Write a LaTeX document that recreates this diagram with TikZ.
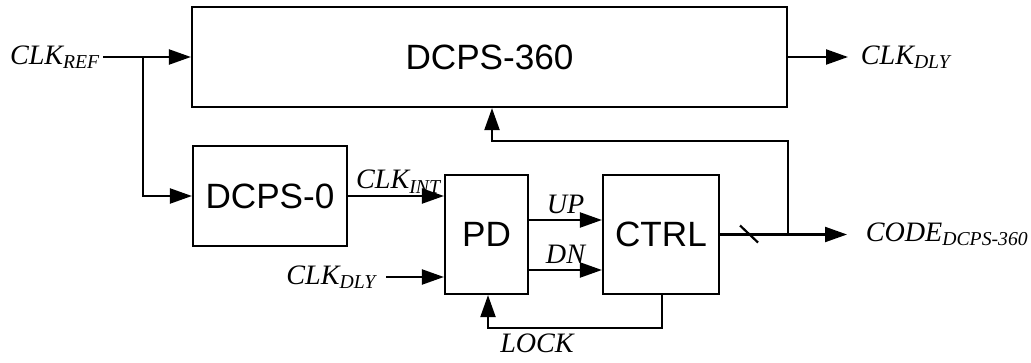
\documentclass[tikz,border=0pt]{standalone}
\usepackage{fontspec}
\setmainfont{Liberation Serif}
\newfontfamily\boxfont{Liberation Sans}
\usetikzlibrary{positioning,arrows.meta}
\newcommand{\sigsub}[2]{#1\textsubscript{#2}}

\begin{document}
\begin{tikzpicture}[line width=1.25pt,
  blk/.style={draw, font=\boxfont\fontsize{20}{24}\selectfont, inner sep=0pt},
  sig/.style={font=\itshape\fontsize{16}{19}\selectfont, inner sep=1pt},
  arr/.style={-{Triangle[length=0.44cm,width=0.3cm]}}]
  \useasboundingbox (0,0) rectangle (20.62,7.24);

  % Blocks
  \node[blk, minimum width=11.9cm, minimum height=2cm] (dcps360) at (9.79,6.10) {DCPS-360};
  \node[blk, minimum width=3.08cm, minimum height=2cm] (dcps0) at (5.40,3.32) {DCPS-0};
  \node[blk, minimum width=1.66cm, minimum height=2.38cm] (pd) at (9.73,2.55) {PD};
  \node[blk, minimum width=2.32cm, minimum height=2.38cm] (ctrl) at (13.22,2.55) {CTRL};

  % Signal labels
  \node[sig, anchor=east] (clkref) at (2.06,6.10) {\sigsub{CLK}{REF}};
  \node[sig, anchor=west] (clkdlyout) at (17.16,6.10) {\sigsub{CLK}{DLY}};
  \node[sig, anchor=east] (clkdlyin) at (7.58,1.70) {\sigsub{CLK}{DLY}};
  \node[sig, anchor=west] (code) at (17.26,2.55) {\sigsub{CODE}{DCPS-360}};

  % Helper points
  \coordinate (split) at (2.86,6.10);
  \coordinate (tap) at (ctrl.east -| dcps360.east);
  \coordinate (fb) at (9.84,4.42);
  \coordinate (lockdn) at (13.24,0.68);
  \coordinate (lockup) at (9.76,0.68);
  \coordinate (upin) at (pd.east |- 0,2.84);
  \coordinate (dnin) at (pd.east |- 0,1.84);

  % Connections
  \draw[arr] (clkref.east) -- (dcps360.west);
  \draw[arr] (split) |- (dcps0.west);
  \draw[arr, shorten >=0.2cm] (dcps360.east) -- (clkdlyout.west);
  \draw[arr] (dcps0.east) -- node[sig, above, xshift=0.05cm] (clkint) {\sigsub{CLK}{INT}} (dcps0.east -| pd.west);
  \draw[arr] (clkdlyin.east) ++(0.14,0) -- (clkdlyin.east -| pd.west);
  \draw[arr] (upin) -- node[sig, above, yshift=2pt] (up) {UP} (upin -| ctrl.west);
  \draw[arr] (dnin) -- node[sig, above, yshift=2pt] (dn) {DN} (dnin -| ctrl.west);
  \draw[arr, shorten >=0.32cm] (ctrl.east) -- (code.west);
  \draw (14.80,2.73) -- (15.16,2.39);
  \draw[arr] (tap) |- (fb) -- (fb |- dcps360.south);
  \draw[arr] (ctrl.south -| lockdn) -- (lockdn) -- (lockup) -- (lockup |- pd.south);
  \node[sig, below] (lock) at (10.74,0.62) {LOCK};
\end{tikzpicture}
\end{document}
